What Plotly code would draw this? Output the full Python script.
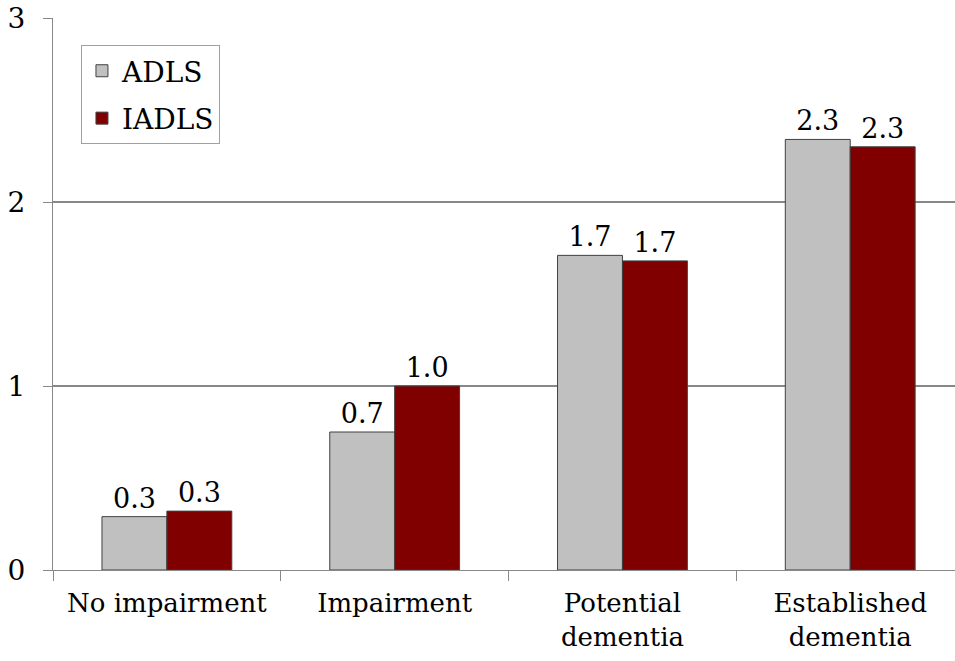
import plotly.graph_objects as go

categories = ["No impairment", "Impairment", "Potential<br>dementia", "Established<br>dementia"]
adls = [0.29, 0.75, 1.71, 2.34]
iadls = [0.32, 1.00, 1.68, 2.30]
adls_labels = ["0.3", "0.7", "1.7", "2.3"]
iadls_labels = ["0.3", "1.0", "1.7", "2.3"]

font_family = "DejaVu Serif"

fig = go.Figure()
fig.add_trace(go.Bar(
    name="ADLS", x=categories, y=adls, text=adls_labels, legendgroup="a",
    textposition="outside", cliponaxis=False,
    marker=dict(color="#C0C0C0", line=dict(color="#404040", width=1)),
    textfont=dict(family=font_family, size=27, color="black"),
))
fig.add_trace(go.Bar(
    name="IADLS", x=categories, y=iadls, text=iadls_labels, legendgroup="b",
    textposition="outside", cliponaxis=False,
    marker=dict(color="#800000", line=dict(color="#404040", width=1)),
    textfont=dict(family=font_family, size=27, color="black"),
))

fig.update_layout(
    width=955, height=661,
    margin=dict(l=53, r=0, t=18, b=91),
    paper_bgcolor="white", plot_bgcolor="white",
    barmode="group", bargap=0.43, bargroupgap=0,
    font=dict(family=font_family, size=27, color="black"),
    showlegend=True,
    legend=dict(
        x=0.031, y=0.951, xanchor="left", yanchor="top",
        bordercolor="#A0A0A0", borderwidth=1, bgcolor="white",
        font=dict(family=font_family, size=28),
        itemwidth=30, traceorder="grouped", tracegroupgap=8,
    ),
    xaxis=dict(
        range=[-0.5, 3.46], showline=True, linecolor="#888888", linewidth=1,
        ticks="outside", tickson="boundaries", ticklen=10, tickcolor="#888888",
        tickfont=dict(family=font_family, size=26), showgrid=False,
        ticklabelstandoff=10,
    ),
    yaxis=dict(
        range=[0, 3], tickvals=[0, 1, 2, 3], showline=True, linecolor="#888888",
        linewidth=1, ticks="outside", ticklen=9, tickcolor="#888888",
        showgrid=True, gridcolor="#888888", gridwidth=1.5, zeroline=False,
        tickfont=dict(family=font_family, size=28), ticklabelstandoff=12,
    ),
)

fig.write_html("out.html", config={"displayModeBar": False},
               post_script="document.body.style.margin='0';")
